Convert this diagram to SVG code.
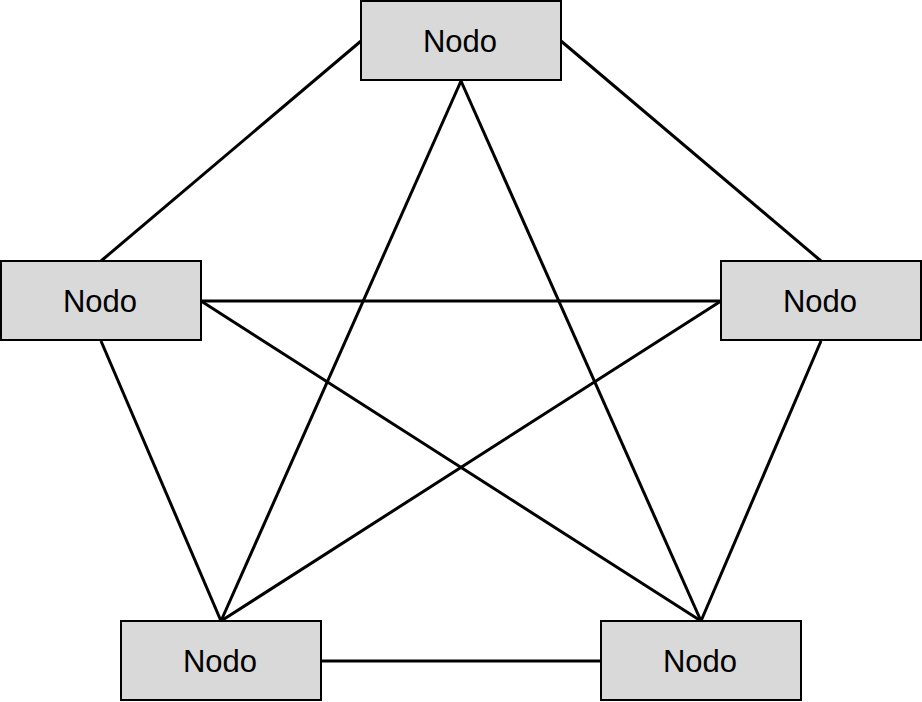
<svg xmlns="http://www.w3.org/2000/svg" width="922" height="702" viewBox="0 0 922 702">
<style>
.n rect{fill:#d9d9d9;stroke:#000;stroke-width:2}
.n text{font-family:"Liberation Sans",Arial,sans-serif;font-size:31px;fill:#000;text-anchor:middle}
.e line{stroke:#000;stroke-width:3;fill:none}
</style>
<rect width="922" height="702" fill="#fff"/>
<g class="e" id="connectors">
<line x1="361" y1="41" x2="101" y2="261"/>
<line x1="561" y1="41" x2="821" y2="261"/>
<line x1="461" y1="81" x2="221" y2="621"/>
<line x1="461" y1="81" x2="701" y2="621"/>
<line x1="201" y1="301" x2="721" y2="301"/>
<line x1="201" y1="301" x2="701" y2="621"/>
<line x1="721" y1="301" x2="221" y2="621"/>
<line x1="101" y1="341" x2="221" y2="621"/>
<line x1="821" y1="341" x2="701" y2="621"/>
<line x1="321" y1="661" x2="601" y2="661"/>
</g>
<g class="n" id="node-top"><rect x="361" y="1" width="200" height="79"/><text x="460" y="52">Nodo</text></g>
<g class="n" id="node-left"><rect x="1" y="261" width="200" height="79"/><text x="100" y="312">Nodo</text></g>
<g class="n" id="node-right"><rect x="721" y="261" width="200" height="79"/><text x="820" y="312">Nodo</text></g>
<g class="n" id="node-bl"><rect x="121" y="621" width="200" height="79"/><text x="220" y="672">Nodo</text></g>
<g class="n" id="node-br"><rect x="601" y="621" width="200" height="79"/><text x="700" y="672">Nodo</text></g>
</svg>
